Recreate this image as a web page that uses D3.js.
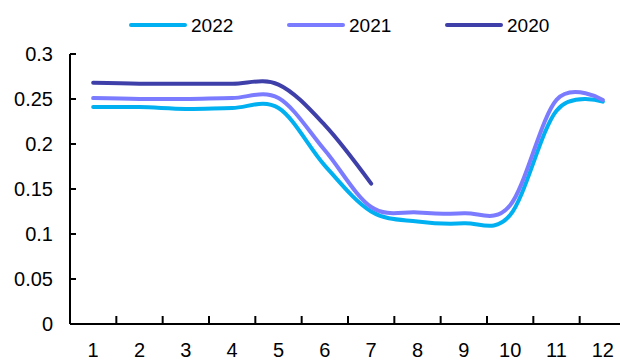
<!DOCTYPE html>
<html>
<head>
<meta charset="utf-8">
<script src="https://cdn.jsdelivr.net/npm/d3@7"></script>
<style>
  html, body { margin: 0; padding: 0; background: #fff; }
  svg { display: block; font-family: "Liberation Sans", Arial, sans-serif; }
</style>
</head>
<body>
<svg id="chart" width="620" height="361"></svg>
<script>
// Month numbers along the x axis
const months = [1, 2, 3, 4, 5, 6, 7, 8, 9, 10, 11, 12];

// Monthly values per year (2020 only runs through July)
const values2022 = [0.241, 0.241, 0.239, 0.240, 0.240, 0.176, 0.125, 0.114, 0.112, 0.121, 0.237, 0.247];
const values2021 = [0.251, 0.250, 0.250, 0.251, 0.251, 0.193, 0.130, 0.124, 0.123, 0.132, 0.249, 0.249];
const values2020 = [0.268, 0.267, 0.267, 0.267, 0.266, 0.221, 0.156];

const seriesNames = ["2022", "2021", "2020"];
const seriesColors = ["#00B0F0", "#7B7BFF", "#3F3FAA"];
const yTicks = [0, 0.05, 0.1, 0.15, 0.2, 0.25, 0.3];

const series = [values2022, values2021, values2020].map((vals, i) => ({
  name: seriesNames[i],
  color: seriesColors[i],
  points: vals.map((v, j) => ({ month: months[j], value: v }))
}));

const svg = d3.select("#chart");

const x = d3.scaleBand().domain(months).range([70, 626]).padding(0);
const y = d3.scaleLinear().domain([0, 0.3]).range([324, 54]);
const cx = m => x(m) + x.bandwidth() / 2;

// Y axis: line with short inward ticks, labels on the left
const yAxis = svg.append("g").attr("transform", "translate(70,0)");
yAxis.append("line")
  .attr("x1", 0).attr("x2", 0)
  .attr("y1", y(0.3)).attr("y2", y(0))
  .attr("stroke", "#000").attr("stroke-width", 2);
yAxis.selectAll("line.tick").data(yTicks).join("line")
  .attr("class", "tick")
  .attr("x1", 0).attr("x2", 6)
  .attr("y1", d => y(d)).attr("y2", d => y(d))
  .attr("stroke", "#000").attr("stroke-width", 2);
yAxis.selectAll("text").data(yTicks).join("text")
  .attr("x", -17).attr("y", d => y(d))
  .attr("dy", "0.35em")
  .attr("text-anchor", "end")
  .attr("font-size", 20)
  .attr("fill", "#000")
  .text(d => d3.format("")(d));

// X axis: baseline, ticks between months, month labels centred in bands
const xAxis = svg.append("g");
xAxis.append("line")
  .attr("x1", 70).attr("x2", 626)
  .attr("y1", y(0)).attr("y2", y(0))
  .attr("stroke", "#000").attr("stroke-width", 2);
xAxis.selectAll("line.tick").data(months.slice(1)).join("line")
  .attr("class", "tick")
  .attr("x1", d => x(d)).attr("x2", d => x(d))
  .attr("y1", y(0)).attr("y2", y(0) - 8)
  .attr("stroke", "#000").attr("stroke-width", 2);
xAxis.selectAll("text").data(months).join("text")
  .attr("x", d => cx(d)).attr("y", y(0) + 26)
  .attr("dy", "0.35em")
  .attr("text-anchor", "middle")
  .attr("font-size", 20)
  .attr("fill", "#000")
  .text(d => d);

// Smoothed lines
const line = d3.line()
  .x(d => cx(d.month))
  .y(d => y(d.value))
  .curve(d3.curveCatmullRom.alpha(0));

svg.append("g").selectAll("path").data(series).join("path")
  .attr("d", d => line(d.points))
  .attr("fill", "none")
  .attr("stroke", d => d.color)
  .attr("stroke-width", 4)
  .attr("stroke-linecap", "round")
  .attr("stroke-linejoin", "round");

// Legend across the top
const legendX = [131, 289, 447];
const legend = svg.append("g").selectAll("g").data(series).join("g")
  .attr("transform", (d, i) => `translate(${legendX[i]},25)`);
legend.append("line")
  .attr("x1", 0).attr("x2", 54)
  .attr("y1", 0).attr("y2", 0)
  .attr("stroke", d => d.color)
  .attr("stroke-width", 4)
  .attr("stroke-linecap", "round");
legend.append("text")
  .attr("x", 60).attr("y", 0)
  .attr("dy", "0.35em")
  .attr("font-size", 19)
  .attr("fill", "#000")
  .text(d => d.name);
</script>
</body>
</html>
